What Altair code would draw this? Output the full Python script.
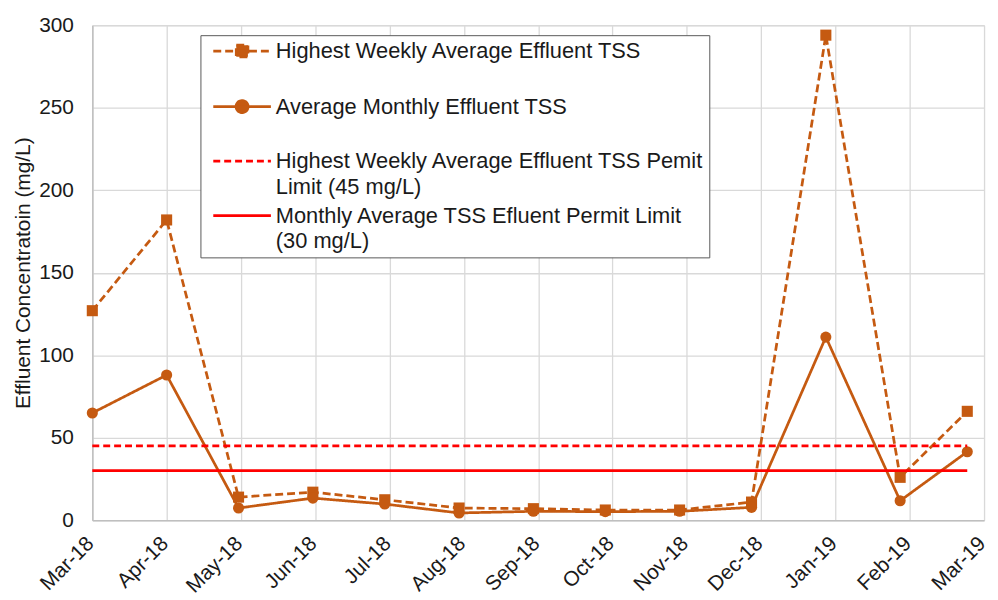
import altair as alt
import pandas as pd
from datetime import date, timedelta

# ---------------- data ----------------
MONTHS = ["2018-03-01", "2018-04-01", "2018-05-01", "2018-06-01", "2018-07-01",
          "2018-08-01", "2018-09-01", "2018-10-01", "2018-11-01", "2018-12-01",
          "2019-01-01", "2019-02-01", "2019-03-01"]
WEEKLY_MAX = [127, 182, 14, 17, 12.4, 7.4, 7.0, 6.2, 6.2, 11, 294, 26, 66]
MONTHLY_AVG = [65, 88, 7.4, 13.4, 9.8, 4.4, 5.4, 5.2, 5.4, 7.8, 111, 11.8, 41.5]
WEEKLY_LIMIT = 45
MONTHLY_LIMIT = 30

SERIES = [
    "Highest Weekly Average Effluent TSS\n",
    "Average Monthly Effluent TSS\n",
    "Highest Weekly Average Effluent TSS Pemit\u00a0\nLimit (45 mg/L)",
    "Monthly Average TSS Efluent Permit Limit\n(30 mg/L)",
]
COLORS = ["#C55A11", "#C55A11", "#FF0000", "#FF0000"]
DASHES = [[8, 4], [1, 0], [7, 4], [1, 0]]
MARKERS = ["square", "circle"]
# legend glyphs (units of ~9.6 px): a 58 px line with the series marker on it
LEGEND_SHAPES = [
    "M-3.02,0H3.02M-0.61,-0.61H0.61V0.61H-0.61Z",
    "M-3.02,0H3.02M0.63,0A0.63,0.63,0,1,1,-0.63,0A0.63,0.63,0,1,1,0.63,0Z",
    "M-3.02,0H3.02",
    "M-3.02,0H3.02",
]

TICK_START = date(2018, 3, 1)
TICK_STEP_DAYS = 31
N_TICKS = 13
Y_TICKS = [0, 50, 100, 150, 200, 250, 300]

FONT = "Liberation Sans"
TEXT = "#1a1a1a"

# ---------------- frames ----------------
meas = pd.DataFrame(
    [{"date": d, "value": v, "series": SERIES[0]} for d, v in zip(MONTHS, WEEKLY_MAX)]
    + [{"date": d, "value": v, "series": SERIES[1]} for d, v in zip(MONTHS, MONTHLY_AVG)]
)
limits = pd.DataFrame(
    [{"date": d, "value": WEEKLY_LIMIT, "series": SERIES[2]} for d in MONTHS]
    + [{"date": d, "value": MONTHLY_LIMIT, "series": SERIES[3]} for d in MONTHS]
)
legend_df = pd.DataFrame({"series": SERIES})

ticks = [TICK_START + timedelta(days=TICK_STEP_DAYS * k) for k in range(N_TICKS)]
tick_dt = [alt.DateTime(year=t.year, month=t.month, date=t.day, utc=True) for t in ticks]

xscale = alt.Scale(type="utc", domain=[tick_dt[0], tick_dt[-1]])
yscale = alt.Scale(domain=[0, 300], nice=False)

xaxis = alt.Axis(
    values=tick_dt, labelExpr="utcFormat(datum.value, '%b-%y')", title=None,
    labelAngle=315, labelAlign="right", labelBaseline="middle", labelPadding=20,
    labelOffset=-2,
    labelFontSize=21, labelFont=FONT, labelColor=TEXT, labelOverlap=False,
    ticks=False, grid=True, gridColor="#D9D9D9", gridWidth=1.3,
    domainColor="#BFBFBF", domainWidth=1.5, labelFlush=False,
)
yaxis = alt.Axis(
    values=Y_TICKS, title="Effluent Concentratoin (mg/L)",
    labelFontSize=21, labelFont=FONT, labelColor=TEXT, labelPadding=19,
    ticks=False, grid=True, gridColor="#D9D9D9", gridWidth=1.3,
    domainColor="#BFBFBF", domainWidth=1.5,
    titleFont=FONT, titleFontSize=21, titleFontWeight="normal", titleColor=TEXT,
    titleX=-69, titleY=249.5, titleAngle=270, titleAlign="center", titleBaseline="middle",
)

X = alt.X("date:T", scale=xscale, axis=xaxis)
Y = alt.Y("value:Q", scale=yscale, axis=yaxis)
col = alt.Color("series:N", scale=alt.Scale(domain=SERIES, range=COLORS), legend=None)
dash = alt.StrokeDash("series:N", scale=alt.Scale(domain=SERIES, range=DASHES), legend=None)

meas_lines = alt.Chart(meas).mark_line(strokeWidth=2.75).encode(x=X, y=Y, color=col, strokeDash=dash)
meas_points = alt.Chart(meas).mark_point(filled=True, opacity=1, size=125).encode(
    x=X, y=Y, color=col,
    shape=alt.Shape("series:N", scale=alt.Scale(domain=SERIES[:2], range=MARKERS), legend=None),
)
limit_lines = alt.Chart(limits).mark_line(strokeWidth=2.75).encode(x=X, y=Y, color=col, strokeDash=dash)

leg = alt.Legend(
    title=None, orient="none", legendX=109, legendY=10,
    labelExpr="split(datum.label, '\\n')", labelFont=FONT, labelFontSize=22,
    labelColor=TEXT, labelLimit=600, labelOffset=23, symbolSize=370,
    symbolStrokeWidth=2.75, symbolOpacity=1, symbolOffset=26, padding=5, rowPadding=7,
    symbolFillColor="white", symbolStrokeColor="black",
    fillColor="white", strokeColor="#595959",
)
legend_layer = alt.Chart(legend_df).mark_point(opacity=0, filled=True).encode(
    fill=alt.Fill("series:N", scale=alt.Scale(domain=SERIES, range=COLORS), legend=leg),
    stroke=alt.Stroke("series:N", scale=alt.Scale(domain=SERIES, range=COLORS), legend=leg),
    shape=alt.Shape("series:N", scale=alt.Scale(domain=SERIES, range=LEGEND_SHAPES), legend=leg),
    strokeDash=alt.StrokeDash("series:N", scale=alt.Scale(domain=SERIES, range=DASHES), legend=leg),
)

chart = alt.layer(meas_lines, meas_points, limit_lines, legend_layer).resolve_scale(
    shape="independent", strokeDash="independent", stroke="independent",
    fill="independent", color="independent"
).properties(
    width=899, height=499,
    padding={"left": 85, "top": 15, "right": 6, "bottom": 75},
    autosize=alt.AutoSizeParams(type="none"),
).configure_view(strokeWidth=0).configure(
    style={"guide-label": {"lineHeight": 26}}
)

chart.save("out.html", embed_options={"renderer": "svg", "actions": False})
